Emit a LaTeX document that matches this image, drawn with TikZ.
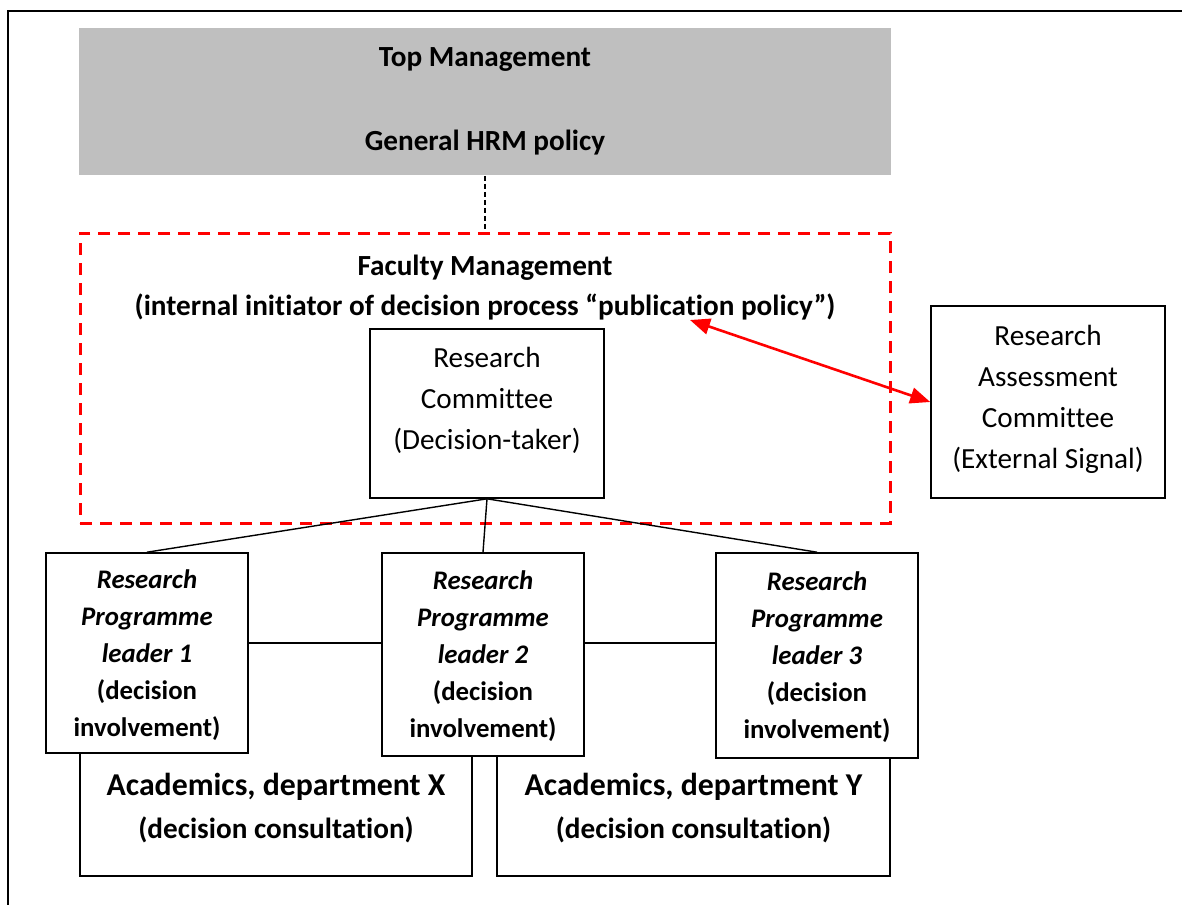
\documentclass[tikz,border=0pt]{standalone}
\usepackage{fontspec}
\setmainfont{Carlito}[Ligatures=NoCommon]
\usetikzlibrary{arrows.meta}
\definecolor{mgray}{RGB}{191,191,191}
\definecolor{sigred}{RGB}{255,0,0}

\begin{document}
\begin{tikzpicture}[x=0.5pt,y=-0.5pt]
  \tikzset{box/.style = {shape=rectangle,draw,line width=0.8pt,fill=white,inner sep=2pt,align=center,font=\fontsize{14.6}{20.5}\selectfont}}
  \tikzset{leaderbox/.style = {box,minimum width=101pt,text depth=0pt,font=\fontsize{13.4}{18.5}\selectfont\bfseries}}
  \tikzset{acadbox/.style = {box,minimum height=116.5pt,text height=81pt,font=\fontsize{14.6}{21.5}\selectfont\bfseries}}
  \tikzset{link/.style = {line width=0.7pt}}
  \tikzset{signal/.style = {{Triangle[length=10pt,width=8pt]}-{Triangle[length=10pt,width=8pt]},line width=1.3pt,draw=sigred}}
  \useasboundingbox (0,0) rectangle (1182,904);
  \draw[line width=1pt] (8,11) rectangle (1200,920);

  % top of the hierarchy
  \node[box,draw=none,fill=mgray,minimum width=406pt,minimum height=73.5pt,text depth=2.5pt,font=\fontsize{14.6}{20.75}\selectfont\bfseries]
    (top) at (485,101.5) {Top Management\\[21pt]General HRM policy};
  \node[box,fill=none,draw=sigred,line width=1.5pt,dash pattern=on 6pt off 4pt,minimum width=405pt,minimum height=145pt]
    (fac) at (485,378) {};
  \draw[link,dash pattern=on 2.5pt off 1.5pt] (top.south) -- (fac.north);
  \node[box,draw=none,fill=none,font=\fontsize{14.6}{20}\selectfont\bfseries] (facname) at (485,288)
    {Faculty Management\\(internal initiator of decision process “publication policy”)};
  \coordinate (pub) at (690,320);

  \node[box,minimum width=117pt,minimum height=84.5pt,text depth=15pt] (rc) at (487,413.5)
    {Research\\Committee\\(Decision-taker)};
  \node[box,minimum width=117pt,minimum height=96pt,text depth=5pt] (rac) at (1048,402)
    {Research\\Assessment\\Committee\\(External Signal)};
  \draw[signal] (pub) -- (rac.west);

  % academics behind the programme leaders
  \node[acadbox,minimum width=196pt] (acx) at (276,759.5)
    {{\fontsize{15.9}{21.5}\selectfont Academics, department X}\\(decision consultation)};
  \node[acadbox,minimum width=196.5pt] (acy) at (693.5,759.5)
    {{\fontsize{15.9}{21.5}\selectfont Academics, department Y}\\(decision consultation)};

  \foreach \n/\x/\y/\h in {1/147/653/100,2/483/654.5/101.5,3/817/655.5/102.5}
    \node[leaderbox,minimum height=\h pt] (rpl\n) at (\x,\y)
      {\textit{Research}\\\textit{Programme}\\\textit{leader \n}\\(decision\\involvement)};

  \foreach \to in {rpl1,rpl2,rpl3}
    \draw[link] (rc.south) -- (\to.north);

\end{tikzpicture}
\end{document}
